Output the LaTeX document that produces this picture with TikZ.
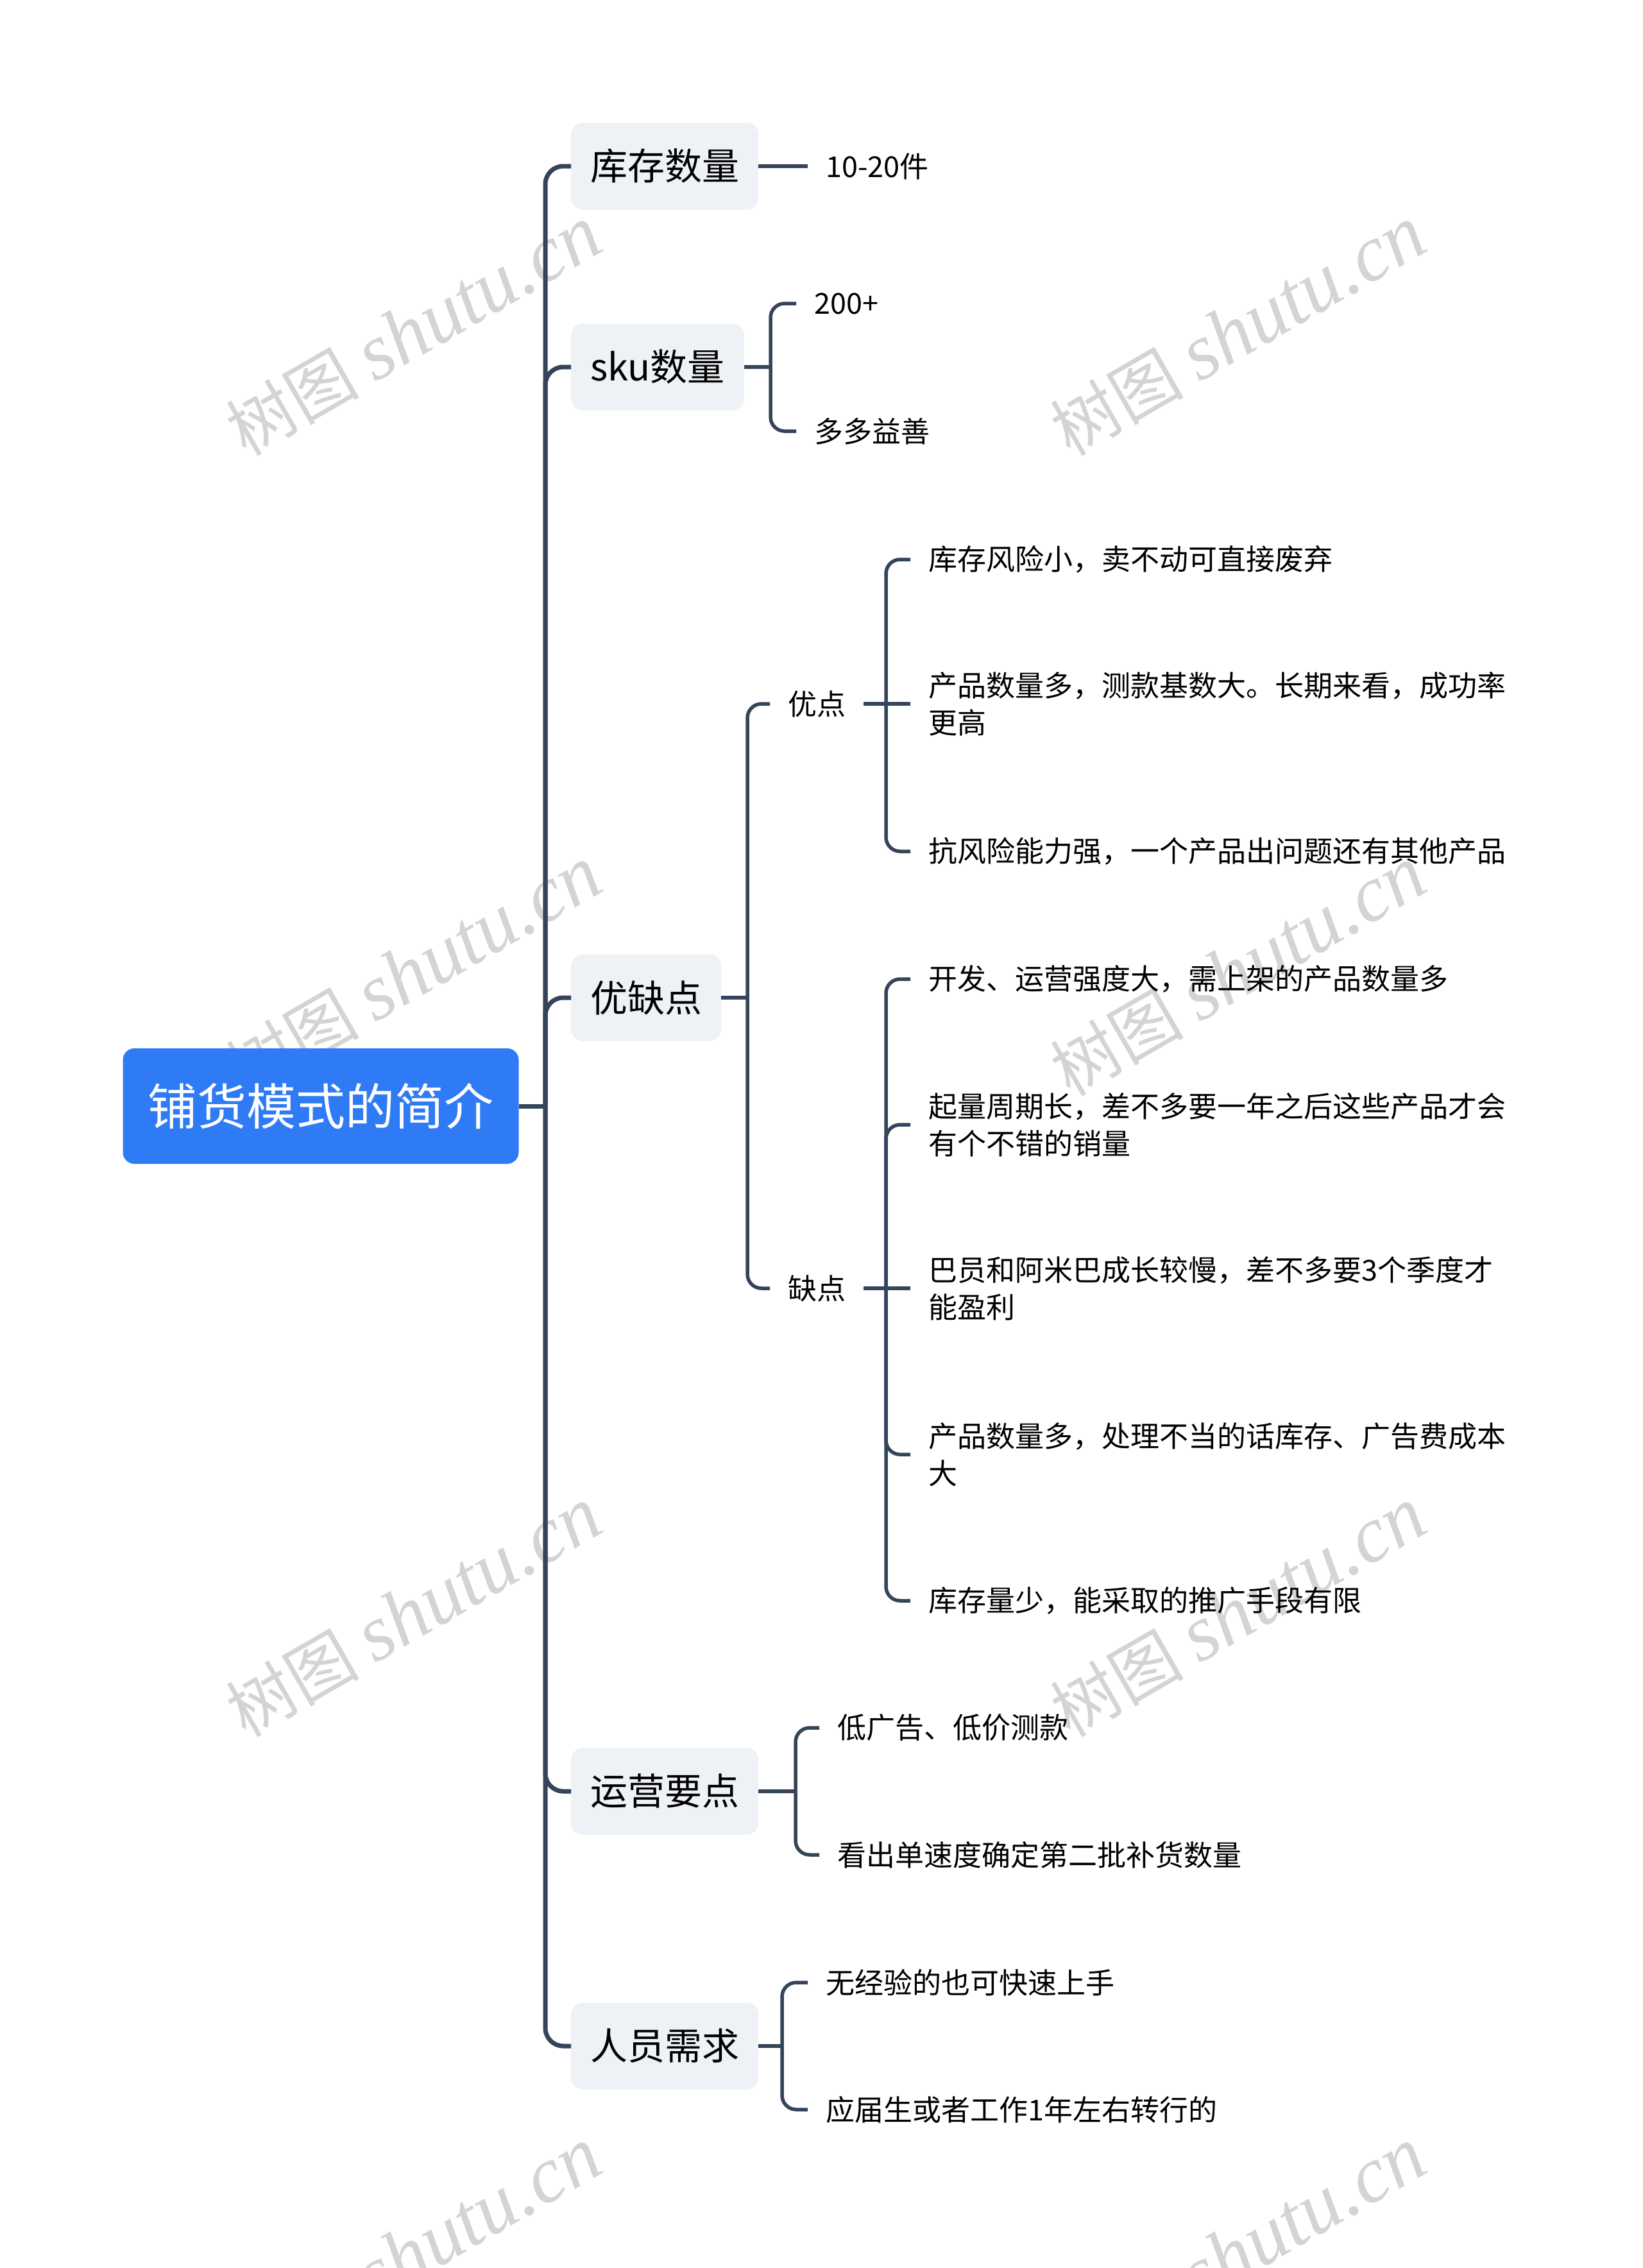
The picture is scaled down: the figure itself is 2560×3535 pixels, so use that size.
\documentclass[tikz,border=0pt]{standalone}
\usepackage{fontspec}
\setmainfont{Noto Sans CJK SC}
\newfontfamily\cjkwm{Noto Sans CJK SC}
\newfontfamily\wmserif{Liberation Serif}
\definecolor{rootblue}{HTML}{2F7BF6}
\definecolor{topicgray}{HTML}{EEF1F5}
\definecolor{linecol}{HTML}{34445A}
\definecolor{wmgray}{HTML}{D4D4D4}
\begin{document}
\begin{tikzpicture}[x=1pt,y=-1pt,
  rootbox/.style={fill=rootblue, rounded corners=18pt, text=white, font=\fontsize{77}{90}\selectfont, minimum width=617pt, minimum height=180pt, inner sep=0pt},
  topic/.style={fill=topicgray, rounded corners=18pt, font=\fontsize{58}{70}\selectfont, minimum height=135pt, inner xsep=30pt, inner ysep=0pt, anchor=west},
  leaf/.style={font=\fontsize{45}{58}\selectfont, inner xsep=28pt, inner ysep=8pt, align=left, anchor=west},
  link/.style={draw=linecol, line width=5.5pt, rounded corners=22pt},
  mainlink/.style={draw=linecol, line width=7pt, rounded corners=28pt},
  wm/.style={text=wmgray, rotate=30, inner sep=0pt}
]
\useasboundingbox[fill=white] (0,0) rectangle (2560,3535);

% watermarks
\foreach \wx in {645,1930}{
  \foreach \wy in {516,1514,2513,3511}{
    \node[wm] (wm-\wx-\wy) at (\wx,\wy) {{\cjkwm\fontsize{104}{120}\selectfont 树图}\hspace{24pt}{\wmserif\itshape\fontsize{124}{140}\selectfont shutu.cn}};
  }
}

% root and topics
\node[rootbox] (root) at (500,1724) {铺货模式的简介};
\coordinate (j0) at (850,1724);
\node[topic] (t1) at (890,259) {库存数量};
\node[topic] (t2) at (890,572) {sku数量};
\node[topic] (t3) at (890,1555) {优缺点};
\node[topic] (t4) at (890,2792) {运营要点};
\node[topic] (t5) at (890,3189) {人员需求};

\draw[mainlink] (root.east) -- (j0);
\foreach \t in {t1,t2,t3,t4,t5}{
  \draw[mainlink] (j0) |- (\t.west);
}

% 库存数量
\node[leaf] (l11) at (1259,259) {10-20件};
\draw[link] (t1.east) -- (l11.west);

% sku数量
\coordinate (j2) at (1201,572);
\node[leaf] (l21) at (1241,473) {200+};
\node[leaf] (l22) at (1241,672) {多多益善};
\draw[link] (t2.east) -- (j2);
\draw[link] (j2) |- (l21.west);
\draw[link] (j2) |- (l22.west);

% 优缺点
\coordinate (j3) at (1165,1555);
\node[leaf] (y1) at (1200,1097) {优点};
\node[leaf] (y2) at (1200,2008) {缺点};
\draw[link] (t3.east) -- (j3);
\draw[link] (j3) |- (y1.west);
\draw[link] (j3) |- (y2.west);

% 优点
\coordinate (jy1) at (1381,1097);
\node[leaf] (a1) at (1419,872) {库存风险小，卖不动可直接废弃};
\node[leaf] (a2) at (1419,1097) {产品数量多，测款基数大。长期来看，成功率\\更高};
\node[leaf] (a3) at (1419,1327) {抗风险能力强，一个产品出问题还有其他产品};
\draw[link] (y1.east) -- (jy1);
\draw[link] (jy1) |- (a1.west);
\draw[link] (jy1) -- (a2.west);
\draw[link] (jy1) |- (a3.west);

% 缺点
\coordinate (jy2) at (1381,2008);
\node[leaf] (b1) at (1419,1526) {开发、运营强度大，需上架的产品数量多};
\node[leaf] (b2) at (1419,1753) {起量周期长，差不多要一年之后这些产品才会\\有个不错的销量};
\node[leaf] (b3) at (1419,2008) {巴员和阿米巴成长较慢，差不多要3个季度才\\能盈利};
\node[leaf] (b4) at (1419,2267) {产品数量多，处理不当的话库存、广告费成本\\大};
\node[leaf] (b5) at (1419,2495) {库存量少，能采取的推广手段有限};
\draw[link] (y2.east) -- (jy2);
\draw[link] (jy2) |- (b1.west);
\draw[link] (jy2) |- (b2.west);
\draw[link] (jy2) -- (b3.west);
\draw[link] (jy2) |- (b4.west);
\draw[link] (jy2) |- (b5.west);

% 运营要点
\coordinate (j4) at (1240,2792);
\node[leaf] (c1) at (1277,2693) {低广告、低价测款};
\node[leaf] (c2) at (1277,2891) {看出单速度确定第二批补货数量};
\draw[link] (t4.east) -- (j4);
\draw[link] (j4) |- (c1.west);
\draw[link] (j4) |- (c2.west);

% 人员需求
\coordinate (j5) at (1219,3189);
\node[leaf] (d1) at (1259,3090) {无经验的也可快速上手};
\node[leaf] (d2) at (1259,3288) {应届生或者工作1年左右转行的};
\draw[link] (t5.east) -- (j5);
\draw[link] (j5) |- (d1.west);
\draw[link] (j5) |- (d2.west);
\end{tikzpicture}
\end{document}
